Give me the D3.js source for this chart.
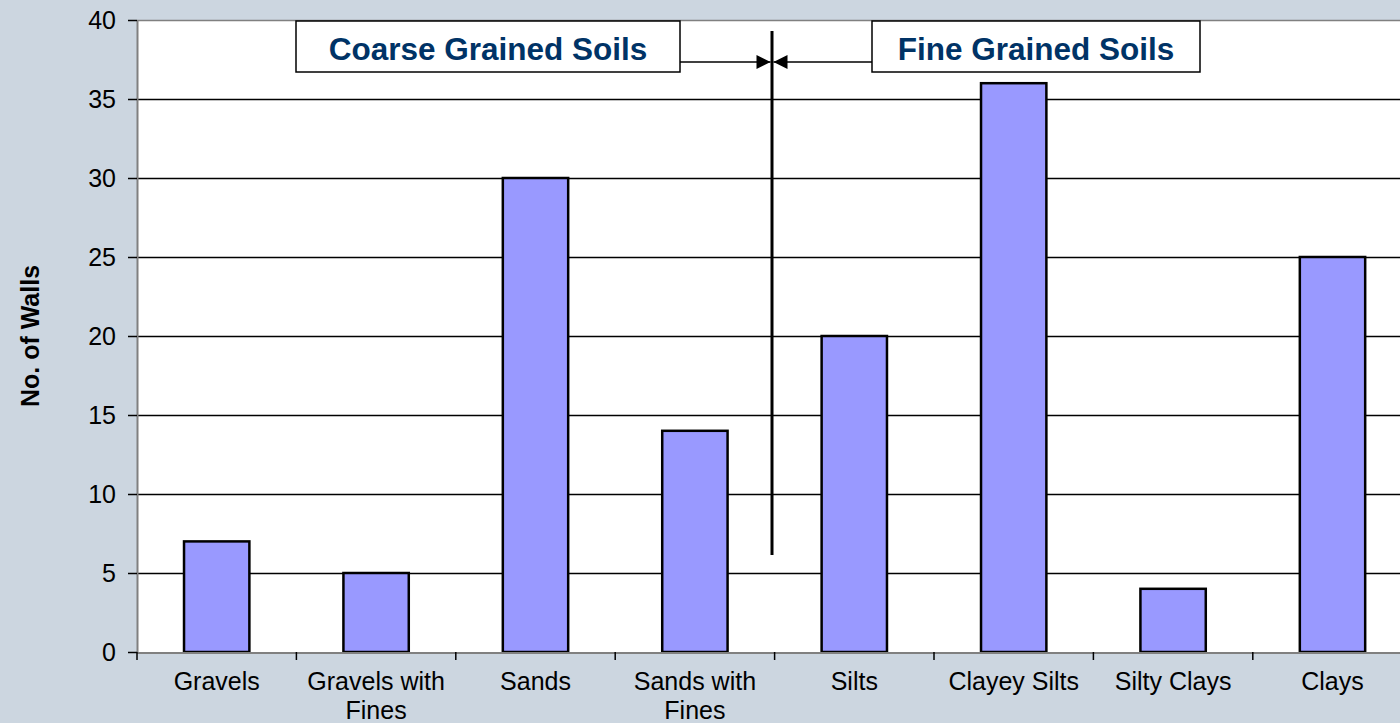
<!DOCTYPE html>
<html>
<head>
<meta charset="utf-8">
<script src="https://cdn.jsdelivr.net/npm/d3@7"></script>
<style>
  html, body { margin: 0; padding: 0; background: #ccd6e0; }
  svg { display: block; font-family: "Liberation Sans", Arial, sans-serif; }
</style>
</head>
<body>
<div id="chart"></div>
<script>
// Soil types vs number of walls
const categories = ["Gravels", "Gravels with\nFines", "Sands", "Sands with\nFines", "Silts", "Clayey Silts", "Silty Clays", "Clays"];
const walls = [7, 5, 30, 14, 20, 36, 4, 25];
const yTicks = [0, 5, 10, 15, 20, 25, 30, 35, 40];
const groupLabels = ["Coarse Grained Soils", "Fine Grained Soils"];

const W = 1400, H = 723;
const plot = { left: 137, top: 20, bottom: 652 };
const band = 159.4;

const svg = d3.select("#chart").append("svg")
  .attr("width", W).attr("height", H);

const x = d3.scaleBand()
  .domain(categories)
  .range([plot.left, plot.left + band * categories.length])
  .paddingInner(0.59).paddingOuter(0.295);

const y = d3.scaleLinear().domain([0, 40]).range([plot.bottom, plot.top]);

// plot background
svg.append("rect")
  .attr("x", plot.left).attr("y", plot.top)
  .attr("width", W - plot.left).attr("height", plot.bottom - plot.top)
  .attr("fill", "#fff");

// gridlines
svg.append("g").selectAll("line").data(yTicks.filter(d => d > 0 && d < 40)).join("line")
  .attr("x1", plot.left).attr("x2", W)
  .attr("y1", d => Math.round(y(d)) + 0.5).attr("y2", d => Math.round(y(d)) + 0.5)
  .attr("stroke", "#000").attr("stroke-width", 1.3);

// top border
svg.append("line")
  .attr("x1", plot.left).attr("x2", W)
  .attr("y1", plot.top + 0.5).attr("y2", plot.top + 0.5)
  .attr("stroke", "#808080").attr("stroke-width", 1.5);

// bars
svg.append("g").selectAll("rect").data(walls).join("rect")
  .attr("x", (d, i) => x(categories[i]))
  .attr("width", x.bandwidth())
  .attr("y", d => y(d))
  .attr("height", d => y(0) - y(d))
  .attr("fill", "#9999ff")
  .attr("stroke", "#000")
  .attr("stroke-width", 2.5);

// y axis
const yAxis = svg.append("g")
  .attr("transform", `translate(${plot.left},0)`)
  .call(d3.axisLeft(y).tickValues(yTicks).tickSize(9).tickPadding(12).tickSizeOuter(0));
yAxis.select(".domain").attr("stroke", "#808080").attr("stroke-width", 2);
yAxis.selectAll(".tick line").attr("stroke", "#000").attr("stroke-width", 1.5);
yAxis.selectAll(".tick text")
  .attr("font-size", 25).attr("fill", "#000")
  .attr("font-family", "Liberation Sans, Arial, sans-serif");

// x axis
const xAxisScale = d3.scaleLinear().domain([0, categories.length]).range([plot.left, plot.left + band * categories.length]);
const xg = svg.append("g");
xg.append("line")
  .attr("x1", plot.left).attr("x2", W)
  .attr("y1", plot.bottom + 1).attr("y2", plot.bottom + 1)
  .attr("stroke", "#808080").attr("stroke-width", 2);
xg.selectAll("line.tk").data(d3.range(categories.length + 1)).join("line")
  .attr("class", "tk")
  .attr("x1", d => xAxisScale(d)).attr("x2", d => xAxisScale(d))
  .attr("y1", plot.bottom).attr("y2", plot.bottom + 8)
  .attr("stroke", "#000").attr("stroke-width", 1.5);

const labels = xg.selectAll("text").data(categories).join("text")
  .attr("x", d => x(d) + x.bandwidth() / 2)
  .attr("y", 690)
  .attr("text-anchor", "middle")
  .attr("font-size", 25)
  .attr("fill", "#000");
labels.each(function(d) {
  const t = d3.select(this);
  d.split("\n").forEach((line, i) => {
    t.append("tspan")
      .attr("x", x(d) + x.bandwidth() / 2)
      .attr("dy", i === 0 ? 0 : 29)
      .text(line);
  });
});

// y axis title
svg.append("text")
  .attr("transform", `translate(39,${(plot.top + plot.bottom) / 2}) rotate(-90)`)
  .attr("text-anchor", "middle")
  .attr("font-size", 25)
  .attr("font-weight", "bold")
  .attr("fill", "#000")
  .text("No. of Walls");

// divider between coarse and fine
const divX = 772;
svg.append("line")
  .attr("x1", divX).attr("x2", divX)
  .attr("y1", 31).attr("y2", 555)
  .attr("stroke", "#000").attr("stroke-width", 3);

// arrowheads
const defs = svg.append("defs");
defs.append("marker")
  .attr("id", "arr")
  .attr("viewBox", "0 0 10 10")
  .attr("refX", 10).attr("refY", 5)
  .attr("markerWidth", 16).attr("markerHeight", 14)
  .attr("markerUnits", "userSpaceOnUse")
  .attr("orient", "auto")
  .append("path").attr("d", "M0,0 L10,5 L0,10 Z").attr("fill", "#000");

const boxes = [
  { label: groupLabels[0], x0: 296, x1: 680, arrowFrom: 680, arrowTo: divX - 1.5 },
  { label: groupLabels[1], x0: 872, x1: 1200, arrowFrom: 872, arrowTo: divX + 1.5 }
];
const boxY0 = 21, boxY1 = 72, arrowY = 62;

boxes.forEach(b => {
  svg.append("line")
    .attr("x1", b.arrowFrom).attr("x2", b.arrowTo)
    .attr("y1", arrowY).attr("y2", arrowY)
    .attr("stroke", "#000").attr("stroke-width", 1.5)
    .attr("marker-end", "url(#arr)");
  svg.append("rect")
    .attr("x", b.x0).attr("y", boxY0)
    .attr("width", b.x1 - b.x0).attr("height", boxY1 - boxY0)
    .attr("fill", "#fff").attr("stroke", "#000").attr("stroke-width", 1.5);
  svg.append("text")
    .attr("x", (b.x0 + b.x1) / 2).attr("y", 60)
    .attr("text-anchor", "middle")
    .attr("font-size", 31.5)
    .attr("font-weight", "bold")
    .attr("fill", "#003366")
    .text(b.label);
});
</script>
</body>
</html>
